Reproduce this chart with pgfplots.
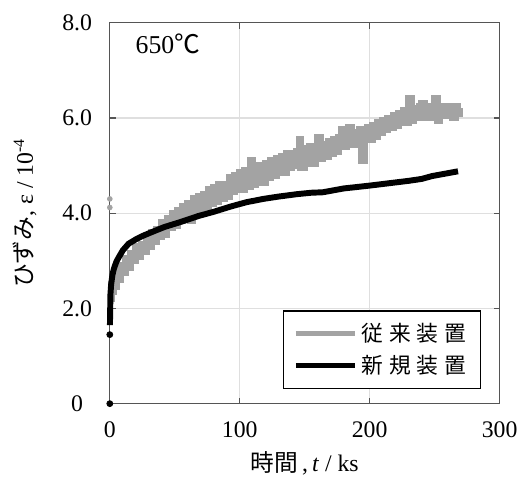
\documentclass[border=0pt]{standalone}
\usepackage{fontspec}
\setmainfont{Liberation Serif}
\newfontfamily\jp{Noto Sans CJK JP}
\usepackage{pgfplots}
\usepackage{pgfplotstable}
\pgfplotsset{compat=1.18}
\usetikzlibrary{calc}
\definecolor{oldgray}{RGB}{163,163,163}
\definecolor{axgray}{RGB}{85,85,85}

% conventional device (noisy band)
\pgfplotstableread{
t eps
0.5 2.2
1 2.5
2 2.35
3 2.6
4 2.45
5 2.75
6 2.6
8 2.9
10 2.75
12 3.05
14 2.85
16 3.15
18 3.0
20 3.3
22 3.1
24 3.35
26 3.2
28 3.5
30 3.3
32 3.6
34 3.4
36 3.65
38 3.5
40 3.8
42 3.55
44 3.9
46 3.7
48 4.0
50 3.75
52 4.05
54 3.85
56 4.15
58 3.9
60 4.2
62 3.85
64 4.3
66 4.0
68 4.35
70 4.05
72 4.4
74 4.1
76 4.5
78 4.2
80 4.55
82 4.25
84 4.6
86 4.3
88 4.6
90 4.35
92 4.75
94 4.45
96 4.8
98 4.5
100 4.85
102 4.5
104 4.9
106 4.55
108 5.1
110 4.6
112 5.0
114 4.65
116 5.0
118 4.65
120 5.05
122 4.75
124 5.1
126 4.8
128 5.15
130 4.85
132 5.2
134 4.85
136 5.25
138 4.95
140 5.25
142 5.0
144 5.3
146 5.55
147 4.95
150 5.35
152 5.05
154 5.4
156 5.05
158 5.4
160 5.6
162 5.15
164 5.45
166 5.2
168 5.5
170 5.25
172 5.55
174 5.3
176 5.6
178 5.75
180 5.4
182 5.65
184 5.8
186 5.45
188 5.7
190 5.5
192 5.75
194 5.1
196 5.65
198 5.8
200 5.55
202 5.85
204 5.6
206 5.9
208 5.7
210 5.95
212 5.75
214 6.0
216 5.8
218 6.05
220 5.85
222 6.1
224 5.9
226 6.15
228 5.9
230 6.4
232 5.95
234 6.2
236 6.0
238 6.25
240 6.3
242 6.0
244 6.25
246 6.0
248 6.25
250 6.4
252 5.95
254 6.25
256 6.05
258 6.25
260 6.05
262 6.25
264 6.0
266 6.25
268 6.1
269.5 6.2
}\olddata

% new device
\pgfplotstableread{
t eps
0.1 1.65
0.3 2.0
0.5 2.3
1 2.5
2 2.7
3 2.82
5 2.98
7 3.08
10 3.22
14.5 3.36
20 3.45
25 3.52
32 3.6
42 3.71
55 3.82
68 3.94
80 4.03
93 4.14
105 4.23
118 4.30
130 4.35
144 4.40
155 4.43
164 4.44
172 4.48
180 4.52
190 4.55
200 4.58
215 4.63
230 4.68
240 4.72
248 4.78
258 4.83
268 4.88
}\newdata

\begin{document}
\begin{tikzpicture}
\begin{axis}[
  name=ax,
  scale only axis,
  width=197pt, height=192.5pt,
  xmin=0, xmax=300, ymin=0, ymax=8,
  clip=false,
  xtick={0,100,200,300},
  ytick={0,2,4,6,8},
  yticklabels={0,2.0,4.0,6.0,8.0},
  grid=major,
  major grid style={gray!25, line width=0.6pt},
  axis line style={axgray, line width=0.6pt},
  tick style={axgray, line width=0.6pt},
  major tick length=3pt,
  /pgf/number format/assume math mode=true,
  ticklabel style={font=\fontsize{12}{14}\selectfont},
  xticklabel style={anchor=center, yshift=-13pt},
  yticklabel style={anchor=center, xshift=-16.5pt},
  xlabel={{\jp 時間}\,,\,\textit{t} / ks},
  ylabel={{\jp ひずみ}, ε / 10\textsuperscript{-4}},
  label style={font=\fontsize{12}{14}\selectfont},
  xlabel style={at={(axis description cs:0.5,-0.158)}, anchor=center},
  ylabel style={at={(axis description cs:-0.218,0.5)}, anchor=center},
  legend style={at={(axis description cs:0.952,0.039)}, anchor=south east,
    draw=black, line width=0.6pt, inner xsep=5pt, inner ysep=4pt,
    row sep=1.5pt,
    font=\jp\fontsize{11}{13}\selectfont},
  legend cell align=left,
  legend image code/.code={\draw[#1, line width=2.5pt] (0pt,0pt) -- (30pt,0pt);},
]
\addplot[oldgray, line width=3.5pt, const plot] table[x=t, y=eps] {\olddata};
\addlegendentry{従\hspace{3pt}来\hspace{3pt}装\hspace{3pt}置}
\addplot[black, line width=3pt, line join=round] table[x=t, y=eps] {\newdata};
\addlegendentry{新\hspace{3pt}規\hspace{3pt}装\hspace{3pt}置}
\addplot[only marks, mark=*, mark size=1.2pt, oldgray, forget plot]
  coordinates {(0,4.12) (0,4.3)};
\addplot[only marks, mark=*, mark size=1.5pt, black, forget plot]
  coordinates {(0,0) (0,1.45)};
\node[anchor=base west, font=\fontsize{13}{15}\selectfont] at (axis cs:14.5,7.35) {650{\jp ℃}};
\end{axis}
\path ($(ax.south west)+(-55.5pt,-39pt)$) rectangle ($(ax.south west)+(206.5pt,204pt)$);
\end{tikzpicture}
\end{document}
